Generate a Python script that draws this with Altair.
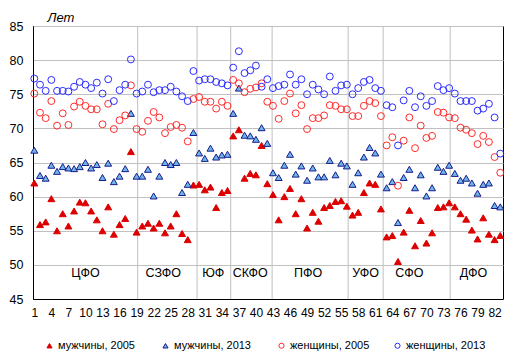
import altair as alt
import pandas as pd

regions = list(range(1, 84))

men_2005 = [62.0, 55.9, 56.3, 59.7, 55.0, 57.5, 55.7, 57.9, 59.2, 59.1,
            57.9, 56.6, 55.0, 58.5, 54.5, 55.9, 56.8, 66.6, 54.8, 55.7,
            56.1, 55.4, 56.1, 54.7, 55.7, 57.5, 54.6, 53.7, 61.7, 61.8,
            61.0, 61.4, 58.4, 60.6, 60.9, 68.9, 69.8, 62.7, 63.4, 63.2,
            67.5, 61.9, 60.3, 56.6, 60.0, 61.2, 57.5, 59.7, 55.4, 57.7,
            56.4, 58.4, 58.7, 59.3, 59.4, 58.6, 57.3, 57.7, 60.6, 62.0,
            61.8, 58.2, 54.1, 54.3, 50.5, 54.8, 58.0, 52.8, 56.5, 53.2,
            54.7, 58.4, 58.5, 59.1, 58.5, 57.5, 56.7, 55.1, 53.8, 56.9,
            54.5, 53.7, 54.3]

men_2013 = [66.8, 63.1, 62.7, 64.6, 63.7, 64.4, 64.2, 64.1, 64.4, 65.0,
            64.2, 64.7, 62.8, 64.9, 62.2, 63.0, 64.1, 72.2, 63.0, 63.0,
            64.0, 60.1, 63.0, 65.0, 64.7, 65.0, 60.6, 61.8, 69.4, 66.4,
            65.6, 67.1, 65.8, 66.1, 66.2, 72.2, 75.9, 69.0, 68.9, 68.4,
            70.1, 67.8, 63.5, 62.8, 64.6, 66.2, 63.3, 64.5, 62.4, 64.2,
            62.9, 62.9, 65.3, 63.2, 64.9, 64.5, 61.8, 63.5, 65.8, 67.2,
            66.4, 63.3, 61.3, 62.2, 56.2, 62.8, 64.0, 61.3, 63.2, 60.1,
            61.3, 64.3, 63.7, 64.6, 63.4, 62.4, 62.7, 62.0, 60.5, 61.8,
            62.0, 58.7, 58.5]

women_2005 = [75.1, 72.3, 71.5, 74.0, 70.4, 72.2, 70.5, 73.2, 73.9, 73.3,
              72.8, 72.8, 70.6, 73.6, 69.9, 71.2, 71.9, 76.3, 69.9, 69.5,
              71.1, 72.4, 71.6, 69.3, 70.2, 70.5, 70.1, 68.1, 74.3, 74.6,
              73.9, 73.9, 72.9, 73.9, 73.3, 77.1, 76.6, 75.3, 75.8, 76.0,
              76.6, 73.9, 73.3, 71.4, 74.0, 75.1, 72.2, 73.4, 69.9, 71.5,
              71.5, 71.9, 73.4, 73.3, 72.8, 72.8, 71.8, 71.8, 73.3, 74.0,
              73.7, 71.8, 67.5, 68.7, 61.6, 68.2, 71.6, 67.1, 70.4, 68.6,
              68.9, 72.4, 72.3, 71.6, 71.5, 70.1, 69.8, 69.3, 67.7, 68.9,
              68.0, 65.8, 63.5]

women_2013 = [77.3, 76.4, 75.5, 77.1, 75.5, 75.5, 75.4, 76.1, 76.8, 76.4,
              75.9, 76.7, 75.1, 77.2, 74.0, 75.6, 76.4, 80.1, 75.1, 75.4,
              76.4, 75.3, 75.6, 75.6, 76.1, 75.4, 74.7, 74.0, 78.4, 77.0,
              77.2, 77.2, 76.8, 76.6, 76.3, 78.9, 81.3, 78.1, 78.5, 79.2,
              76.1, 77.2, 75.9, 76.2, 76.4, 77.9, 76.4, 77.2, 75.0, 76.4,
              75.7, 75.0, 77.6, 75.5, 76.3, 76.4, 75.0, 75.9, 76.8, 77.1,
              75.9, 75.5, 73.4, 73.1, 67.5, 74.1, 75.5, 73.1, 74.7, 73.3,
              74.0, 76.2, 75.6, 75.9, 75.1, 74.0, 74.0, 74.0, 72.6, 72.9,
              73.6, 71.6, 66.3]

series_names = ["мужчины, 2005", "мужчины, 2013", "женщины, 2005", "женщины, 2013"]
x_ticks = list(range(1, 83, 3))
y_ticks = [45, 50, 55, 60, 65, 70, 75, 80, 85]

districts = ["ЦФО", "СЗФО", "ЮФ", "СКФО", "ПФО", "УФО", "СФО", "ДФО"]
district_x = [10.0, 23.7, 32.5, 39.0, 49.2, 59.3, 67.0, 78.3]
district_y = [48.8] * 8
separator_x = [19.19, 29.64, 35.56, 42.85, 56.23, 62.39, 74.19]

rows = []
for name, vals in zip(series_names, [men_2005, men_2013, women_2005, women_2013]):
    for r, v in zip(regions, vals):
        rows.append({"region": r, "value": v, "series": name})
df = pd.DataFrame(rows)

FONT = "Liberation Sans"
xscale = alt.Scale(domain=[0.77, 83.48], nice=False, zero=False)
yscale = alt.Scale(domain=[45, 85], nice=False, zero=False)

x_axis = alt.Axis(values=x_ticks, title=None, grid=False, ticks=False,
                  labelPadding=8, labelFontSize=12, labelColor="black",
                  domainColor="black", labelFlush=False, labelOverlap=False)
y_axis = alt.Axis(values=y_ticks, title="Лет", titleAngle=0, titleX=14, titleY=-9,
                  titleAlign="left", titleBaseline="middle", titleFontStyle="italic",
                  titleFontWeight="normal", titleFontSize=13, titleColor="black",
                  grid=True, gridColor="#C0C0C0", ticks=False, labelPadding=10,
                  labelFontSize=12.5, labelColor="black", domainColor="black",
                  labelFlush=False)

sep = alt.Chart(pd.DataFrame({"x": separator_x})).mark_rule(
    color="#BFBFBF", strokeWidth=1
).encode(x=alt.X("x:Q", scale=xscale, axis=x_axis))

labels = alt.Chart(pd.DataFrame({"x": district_x, "y": district_y, "t": districts})).mark_text(
    fontSize=12.5, color="black", font=FONT, baseline="middle", align="center"
).encode(
    x=alt.X("x:Q", scale=xscale, axis=x_axis),
    y=alt.Y("y:Q", scale=yscale, axis=y_axis),
    text="t:N",
)

leg = alt.Legend(title=None)
points = alt.Chart(df).mark_point(size=48, strokeWidth=1, opacity=1).encode(
    x=alt.X("region:Q", scale=xscale, axis=x_axis),
    y=alt.Y("value:Q", scale=yscale, axis=y_axis),
    shape=alt.Shape("series:N", sort=series_names,
                    scale=alt.Scale(domain=series_names,
                                    range=["triangle-up", "triangle-up", "circle", "circle"]),
                    legend=leg),
    fill=alt.Fill("series:N", sort=series_names,
                  scale=alt.Scale(domain=series_names,
                                  range=["#DC0000", "#6DB6E8", "transparent", "transparent"]),
                  legend=leg),
    stroke=alt.Stroke("series:N", sort=series_names,
                      scale=alt.Scale(domain=series_names,
                                      range=["#DC0000", "#1A1A8C", "#FF2B2B", "#2B2BFF"]),
                      legend=leg),
)

chart = alt.layer(sep, points, labels).properties(
    width=470, height=273,
    autosize=alt.AutoSizeParams(type="none"),
    padding={"left": 25, "top": 18, "right": 6, "bottom": 55},
).configure(font=FONT).configure_view(
    stroke="black", strokeWidth=1
).configure_legend(
    orient="none", legendX=11, legendY=314, direction="horizontal", columns=4,
    gridAlign="all", columnPadding=22, symbolSize=26, labelFontSize=11,
    labelOffset=3, symbolStrokeWidth=1, padding=0, labelColor="black", labelLimit=200
)

chart.save("out.html", embed_options={"renderer": "svg", "actions": False})
